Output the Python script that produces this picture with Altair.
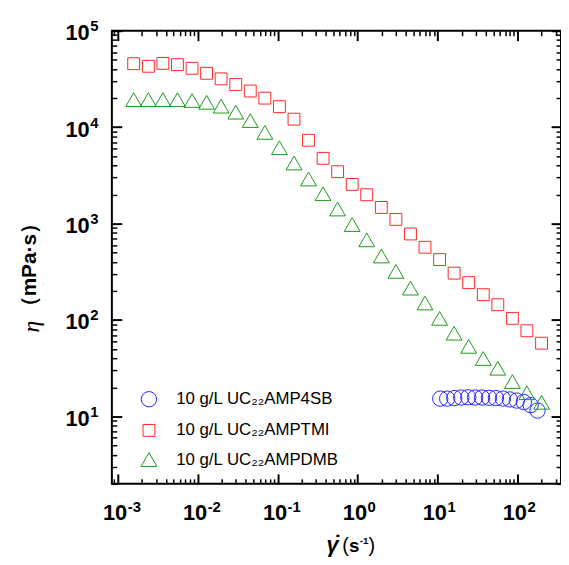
import altair as alt
import pandas as pd

# ---------------- data ----------------
SERIES = ["10 g/L UC₂₂AMP4SB", "10 g/L UC₂₂AMPTMI", "10 g/L UC₂₂AMPDMB"]
COLORS = ["#2626ff", "#ff2626", "#1a9a1a"]
SHAPES = ["circle", "square", "triangle-up"]
SIZES = [240, 144, 256]

# shear rate (1/s) shared by AMPTMI and AMPDMB
rate_main = [0.00158, 0.00241, 0.00366, 0.00557, 0.00849, 0.0129, 0.0196, 0.0299,
             0.0454, 0.0691, 0.105, 0.160, 0.243, 0.370, 0.562, 0.855, 1.30, 1.98,
             3.01, 4.58, 6.96, 10.6, 16.1, 24.5, 37.3, 56.7, 86.3, 131, 200]
eta_tmi = [45500, 42800, 45900, 44500, 40800, 36200, 31700, 27700, 23700, 20000,
           16300, 12100, 7310, 4750, 3450, 2550, 1990, 1470, 1105, 780, 568, 423,
           306, 244, 183, 144, 104, 77.3, 57.5]
eta_dmb = [19300, 19300, 19300, 19300, 18900, 18100, 16500, 14300, 11700, 8830,
           6120, 4250, 2900, 2040, 1415, 977, 678, 461, 319, 214, 150, 104, 72.9,
           53.3, 39.9, 31.6, 23.0, 17.6, 14.0]
rate_4sb = [10.8, 13.2, 16.2, 19.8, 24.2, 29.5, 36.0, 44.0, 53.7, 65.6, 80.2, 97.9,
            120, 146, 178]
eta_4sb = [15.3, 15.3, 15.5, 15.7, 15.8, 15.7, 15.7, 15.6, 15.5, 15.3, 15.0, 14.6,
           14.1, 13.1, 11.5]

X_DOMAIN = [8.43e-4, 350]
Y_DOMAIN = [2, 100000]
X_MAJOR = [0.001, 0.01, 0.1, 1, 10, 100]
Y_MAJOR = [10, 100, 1000, 10000, 100000]

Y_TITLE_SYMBOL = "η"
Y_TITLE_UNIT = "（mPa·s）"
X_TITLE_SYMBOL = "γ"
X_TITLE_DOT = "˙"
X_TITLE_PARTS = ["(", "s", "-1", ")"]

# ---------------- table ----------------
rows = []
for r, v in zip(rate_4sb, eta_4sb):
    rows.append({"series": SERIES[0], "rate": r, "eta": v})
for r, v in zip(rate_main, eta_tmi):
    rows.append({"series": SERIES[1], "rate": r, "eta": v})
for r, v in zip(rate_main, eta_dmb):
    rows.append({"series": SERIES[2], "rate": r, "eta": v})
df = pd.DataFrame(rows)


def log_ticks(lo, hi, kmin, kmax):
    vals = []
    for k in range(kmin, kmax + 1):
        for m in range(1, 10):
            v = float(f"{m}e{k}")
            if lo <= v <= hi:
                vals.append(v)
    return vals


X_TICKS = log_ticks(X_DOMAIN[0], X_DOMAIN[1], -4, 2)
Y_TICKS = log_ticks(Y_DOMAIN[0], Y_DOMAIN[1], 0, 5)

W, H = 454, 458
FONT = "Liberation Sans"

MAJOR = "abs(log(datum.value)/LN10 - round(log(datum.value)/LN10)) < 0.001"
TICK_SIZE = {"condition": {"test": MAJOR, "value": 10}, "value": 5}
TICK_WIDTH = {"condition": {"test": MAJOR, "value": 2}, "value": 1.5}

xscale = alt.Scale(type="log", domain=X_DOMAIN, nice=False)
yscale = alt.Scale(type="log", domain=Y_DOMAIN, nice=False)

common = dict(grid=False, title=None, domain=False, labelFlush=False,
              labelOverlap=False, labelColor="black", labelFont=FONT,
              labelFontWeight="bold")


def tick_axis(orient, offset, values):
    return alt.Axis(orient=orient, offset=offset, values=values, labels=False,
                    domain=False, grid=False, title=None, ticks=True,
                    tickSize=TICK_SIZE, tickWidth=TICK_WIDTH, tickColor="black")


legend = alt.Legend(title=None, orient="none", legendX=29, legendY=364,
                    symbolSize=240, symbolStrokeWidth=1, labelFont=FONT,
                    labelFontSize=17, labelColor="black", rowPadding=11.5,
                    labelOffset=19, padding=0, labelLimit=400)

points = alt.Chart(df).mark_point(filled=False, strokeWidth=1, opacity=1).encode(
    x=alt.X("rate:Q", scale=xscale, axis=alt.Axis(
        orient="bottom", values=X_MAJOR, labelExpr="'10'", labelFontSize=22,
        labelAlign="right", labelBaseline="top", labelOffset=9, labelPadding=19.4,
        ticks=False, **common)),
    y=alt.Y("eta:Q", scale=yscale, axis=alt.Axis(
        orient="left", values=Y_MAJOR, labelExpr="'10'", labelFontSize=22,
        labelAlign="right", labelBaseline="middle", labelOffset=2, labelPadding=23,
        ticks=False, **common)),
    color=alt.Color("series:N", scale=alt.Scale(domain=SERIES, range=COLORS), legend=legend),
    shape=alt.Shape("series:N", scale=alt.Scale(domain=SERIES, range=SHAPES), legend=legend),
    size=alt.Size("series:N", scale=alt.Scale(type="ordinal", domain=SERIES, range=SIZES),
                  legend=None),
)

exponents = alt.Chart(df).mark_point(opacity=0).encode(
    x=alt.X("rate:Q", scale=xscale, axis=alt.Axis(
        orient="bottom", values=X_MAJOR,
        labelExpr="'' + round(log(datum.value)/LN10)", labelFontSize=15,
        labelAlign="left", labelBaseline="top", labelOffset=9.5, labelPadding=15.9,
        ticks=False, **common)),
    y=alt.Y("eta:Q", scale=yscale, axis=alt.Axis(
        orient="left", values=Y_MAJOR,
        labelExpr="'' + round(log(datum.value)/LN10)", labelFontSize=15,
        labelAlign="left", labelBaseline="middle", labelOffset=-5, labelPadding=22.3,
        ticks=False, **common)),
)

ticks_a = alt.Chart(df).mark_point(opacity=0).encode(
    x=alt.X("rate:Q", scale=xscale, axis=tick_axis("top", -H, X_TICKS)),
    y=alt.Y("eta:Q", scale=yscale, axis=tick_axis("right", -W, Y_TICKS)),
)
ticks_b = alt.Chart(df).mark_point(opacity=0).encode(
    x=alt.X("rate:Q", scale=xscale, axis=tick_axis("bottom", -H, X_TICKS)),
    y=alt.Y("eta:Q", scale=yscale, axis=tick_axis("left", -W, Y_TICKS)),
)


def label(text, x, y, **kw):
    return alt.Chart(pd.DataFrame({"t": [text]})).mark_text(
        color="black", **kw).encode(x=alt.value(x), y=alt.value(y), text="t:N")


ytitle_sym = label(Y_TITLE_SYMBOL, -81, 299, font="Liberation Serif",
                   fontStyle="italic", fontSize=24, angle=270,
                   align="center", baseline="middle")
ytitle_unit = label(Y_TITLE_UNIT, -83, 237, font=FONT, fontWeight="bold",
                    fontSize=21, angle=270, align="center", baseline="middle")
xtitle_sym = label(X_TITLE_SYMBOL, 217, 527, font=FONT, fontWeight="bold",
                   fontStyle="italic", fontSize=22, align="left", baseline="alphabetic")
xtitle_dot = label(X_TITLE_DOT, 228.5, 526, font=FONT, fontWeight="bold",
                   fontSize=22, align="center", baseline="alphabetic")
xt_open = label(X_TITLE_PARTS[0], 233, 527, font=FONT, fontSize=20,
                align="left", baseline="alphabetic")
xt_s = label(X_TITLE_PARTS[1], 239.7, 527, font=FONT, fontWeight="bold",
             fontSize=19, align="left", baseline="alphabetic")
xt_exp = label(X_TITLE_PARTS[2], 250.5, 519, font=FONT, fontWeight="bold",
               fontSize=10, align="left", baseline="alphabetic")
xt_close = label(X_TITLE_PARTS[3], 259.5, 527, font=FONT, fontSize=20,
                 align="left", baseline="alphabetic")

chart = alt.layer(
    ticks_a, ticks_b, exponents, points,
    ytitle_sym, ytitle_unit, xtitle_sym, xtitle_dot,
    xt_open, xt_s, xt_exp, xt_close,
).resolve_axis(
    x="independent", y="independent"
).properties(
    width=W, height=H,
    padding={"left": 105, "top": 20, "right": 0, "bottom": 72},
    autosize=alt.AutoSizeParams(type="none"),
).configure_view(
    stroke="black", strokeWidth=2
)

chart.save("out.html", embed_options={"renderer": "svg", "actions": False})
